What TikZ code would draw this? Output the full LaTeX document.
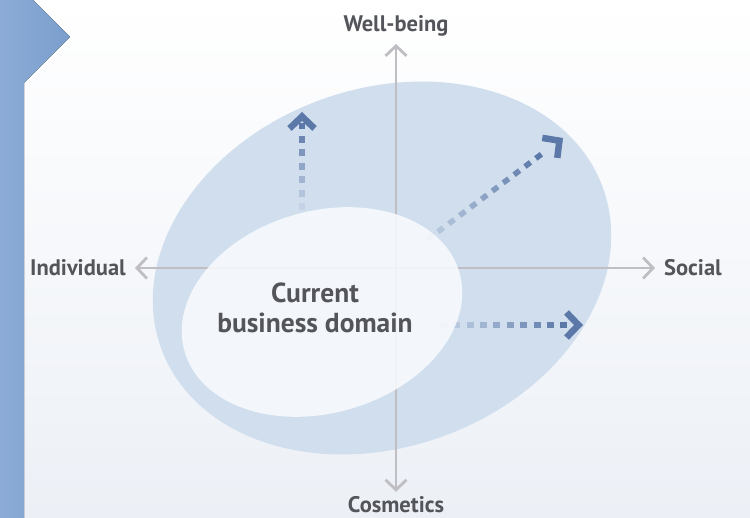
\documentclass[tikz,border=0pt]{standalone}
\usepackage{fontspec}
\setmainfont{PT Sans}
\usetikzlibrary{arrows.meta,shapes.geometric,calc}

\definecolor{barblue}{RGB}{122,158,204}
\definecolor{barlight}{RGB}{140,172,214}
\definecolor{blobblue}{RGB}{208,222,237}
\definecolor{corewhite}{RGB}{248,250,253}
\definecolor{axisgray}{RGB}{190,190,195}
\definecolor{labelgray}{RGB}{84,85,90}
\definecolor{growblue}{RGB}{92,120,168}
\definecolor{bgbottom}{RGB}{236,240,246}

\begin{document}
\begin{tikzpicture}[x=1pt,y=-1pt
,axisline/.style={color=axisgray,line width=2.8pt,-{Straight Barb[length=10pt,width=21pt]}}
,axislabel/.style={color=labelgray,font=\bfseries\fontsize{22.5}{26}\selectfont,inner sep=0pt}
,mainlabel/.style={color=labelgray,font=\bfseries\fontsize{27.5}{30}\selectfont,inner sep=0pt,align=center}
,blob/.style={ellipse,inner sep=0pt,fill=blobblue}
,core/.style={ellipse,inner sep=0pt,fill=corewhite,fill opacity=0.88}
,growdash/.style={color=growblue,line width=5.5pt}
,growtip/.style={color=growblue,line width=6.5pt,-{Straight Barb[length=12pt,width=25pt]}}
]
\useasboundingbox (0,0) rectangle (750,518);
\fill[top color=white,bottom color=bgbottom] (0,0) rectangle (750,518);
% side bar with tab
\fill[left color=barlight,right color=barblue] (0,0) -- (33,0) -- (70,37) -- (24,83) -- (24,518) -- (0,518) -- cycle;

\node[blob,minimum width=470pt,minimum height=358pt,rotate=20] (scope) at (382,268) {};

% axes
\coordinate (origin) at (396,268);
\node[axislabel,anchor=base] (wellbeing) at (396,32) {Well-being};
\node[axislabel,anchor=base] (cosmetics) at (396,512) {Cosmetics};
\node[axislabel,anchor=east] (individual) at (126,268) {Individual};
\node[axislabel,anchor=west] (social) at (664,268) {Social};
\draw[axisline,shorten >=7pt] (origin) -- (wellbeing.south);
\draw[axisline,shorten >=4pt] (origin) -- (cosmetics.north);
\draw[axisline,shorten >=9pt] (origin) -- (individual.east);
\draw[axisline,shorten >=9pt] (origin) -- (social.west);

% growth arrows
\coordinate (upfrom) at (302,210);
\coordinate (uptip) at (302,112);
\foreach \i [evaluate=\i as \op using 0.1+0.9*\i/6] in {0,...,6}
  \draw[growdash,draw opacity=\op] ($(upfrom)!{\i/7.3}!(uptip)$) -- ($(upfrom)!{\i/7.3+0.07}!(uptip)$);
\draw[growtip] ($(uptip)!3pt!(upfrom)$) -- (uptip);

\coordinate (diagfrom) at (427,240);
\coordinate (diagtip) at (563,138);
\foreach \i [evaluate=\i as \op using 0.15+0.85*\i/10] in {0,...,10}
  \draw[growdash,draw opacity=\op] ($(diagfrom)!{\i/12.5}!(diagtip)$) -- ($(diagfrom)!{\i/12.5+0.041}!(diagtip)$);
\draw[growtip] ($(diagtip)!3pt!(diagfrom)$) -- (diagtip);

\coordinate (sidefrom) at (440,325);
\coordinate (sidetip) at (583,325);
\foreach \i [evaluate=\i as \op using 0.1+0.9*\i/9] in {0,...,9}
  \draw[growdash,draw opacity=\op] ($(sidefrom)!{\i/10.7}!(sidetip)$) -- ($(sidefrom)!{\i/10.7+0.049}!(sidetip)$);
\draw[growtip] ($(sidetip)!3pt!(sidefrom)$) -- (sidetip);

\node[core,minimum width=286pt,minimum height=202pt,rotate=16] (domain) at (322,312) {};
\node[mainlabel] (current) at (315,308) {Current\\business domain};
\end{tikzpicture}
\end{document}
